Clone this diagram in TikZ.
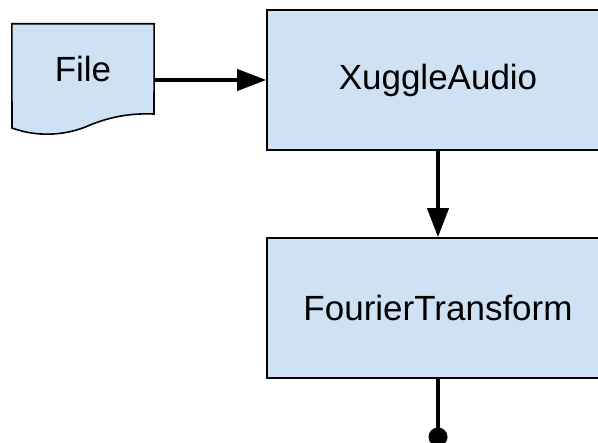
\documentclass[tikz,border=0pt]{standalone}
\usepackage{fontspec}
\setmainfont{Liberation Sans}
\usetikzlibrary{arrows.meta}
\definecolor{boxfill}{HTML}{CFE2F3}
\tikzset{
  procbox/.style={draw=black, line width=1.6bp, fill=boxfill, minimum width=342bp, minimum height=140bp, inner sep=0pt, font=\fontsize{35bp}{40bp}\selectfont},
  docbox/.style={draw=none, minimum width=142bp, minimum height=112bp, inner sep=0pt},
  flow/.style={line width=4bp, -{Triangle[length=29bp,width=21bp]}},
  dotline/.style={line width=4bp},
  enddot/.style={circle, fill=black, minimum size=19bp, inner sep=0pt}
}
\begin{document}
\begin{tikzpicture}[x=1bp,y=-1bp]
\useasboundingbox (0,0) rectangle (598,443);
\clip (0,0) rectangle (598,443);
% document shape
\node[docbox] (file) at (83,80) {};
\draw[line width=1.6bp, fill=boxfill] (file.north west) -- (file.north east) -- (154,114)
  .. controls (130,113) and (110,117) .. (90,125)
  .. controls (75,132) and (45,140) .. (12,128) -- cycle;
\node[font=\fontsize{35bp}{40bp}\selectfont, inner sep=0pt] (filetext) at (83,68.5) {File};
% process boxes
\node[procbox] (xa) at (438,80) {XuggleAudio};
\node[procbox] (ft) at (438,308) {FourierTransform};
\node[enddot] (dot) at (438,437) {};
% connectors
\draw[flow] (file.east |- xa.west) -- (xa.west);
\draw[flow] (xa.south) -- (ft.north);
\draw[dotline] (ft.south) -- (dot.center);
\end{tikzpicture}
\end{document}
